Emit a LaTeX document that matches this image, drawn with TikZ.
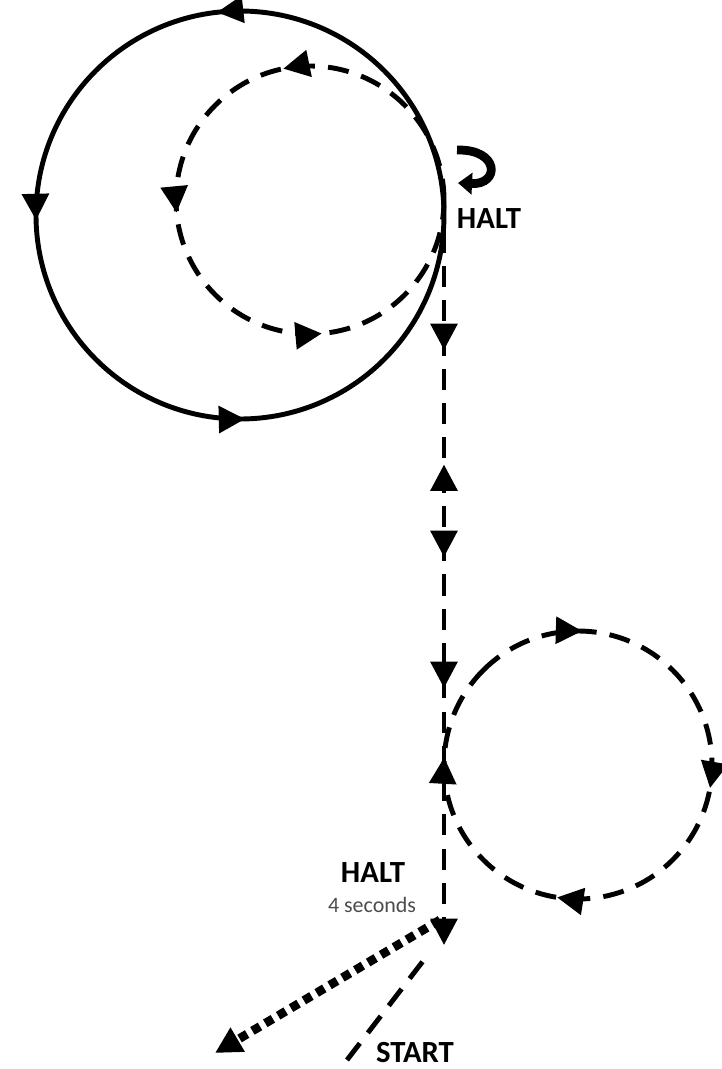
\documentclass[tikz,border=0pt]{standalone}
\usepackage{fontspec}
\setmainfont{Carlito}
\usetikzlibrary{arrows.meta, decorations.markings}

\begin{document}
\begin{tikzpicture}[
    solidroute/.style={draw=black, line width=2.8pt},
    dashroute/.style={draw=black, line width=2.8pt, dash pattern=on 12pt off 7.5pt},
    dotroute/.style={draw=black, line width=5pt, dash pattern=on 5pt off 3.5pt},
    tipat/.style={postaction={decorate, decoration={markings, mark=at position #1 with {\arrow{Triangle[length=15pt, width=15pt]}}}}},
    tipback/.style={postaction={decorate, decoration={markings, mark=at position #1 with {\arrowreversed{Triangle[length=15pt, width=15pt]}}}}},
    endtip/.style={-{Triangle[length=15pt, width=15pt]}},
    spin/.style={line width=5pt, -{Triangle[length=8pt, width=12pt]}},
    haltlabel/.style={font=\fontsize{17.5}{19}\selectfont\bfseries},
    note/.style={font=\fontsize{12.5}{14}\selectfont, text=black!70}
]
\useasboundingbox (0,0) rectangle (14.42,-21.38);

% === CIRCLES ===
\coordinate (bigc) at (4.8,-4.3);
\coordinate (innerc) at (6.2,-4.0);
\coordinate (lowc) at (11.56,-15.3);

\draw[solidroute, tipat=0.268, tipat=0.504, tipat=0.754] (bigc) circle (4.08);
\draw[dashroute, tipat=0.282, tipat=0.515, tipat=0.764] (innerc) circle (2.68);
\draw[dashroute, tipat=0.13, tipat=0.4025, tipat=0.65, tipat=0.884]
    ([shift={(135:2.68)}]lowc) arc[start angle=135, end angle=-225, radius=2.68];

% === HALT POINTS ===
\coordinate (halt1) at (8.88,-3.95);
\coordinate (halt2) at (8.88,-18.9);
\coordinate (start) at (6.94,-21.2);
\coordinate (startend) at (8.6,-19.04);
\coordinate (exit) at (8.8,-18.4);
\coordinate (exitend) at (4.3,-21.06);
\coordinate (spina) at (9.14,-3.0);
\coordinate (spinb) at (9.16,-3.66);

% === ROUTES ===
\draw[dashroute, endtip, tipat=3.05cm, tipback=5.34cm, tipat=7.19cm, tipat=9.81cm] (halt1) -- (halt2);
\draw[dashroute] (start) -- (startend);
\draw[dotroute, endtip] (exit) -- (exitend);
\draw[spin] (spina) .. controls (10.0,-2.98) and (10.0,-3.7) .. (spinb);

% === LABELS ===
\node[haltlabel] (halttop) at (9.78,-4.38) {HALT};
\node[haltlabel] (haltlow) at (7.46,-17.46) {HALT};
\node[note] (wait) at (7.44,-18.1) {4 seconds};
\node[haltlabel] (startlbl) at (8.3,-21.06) {START};

\end{tikzpicture}
\end{document}
